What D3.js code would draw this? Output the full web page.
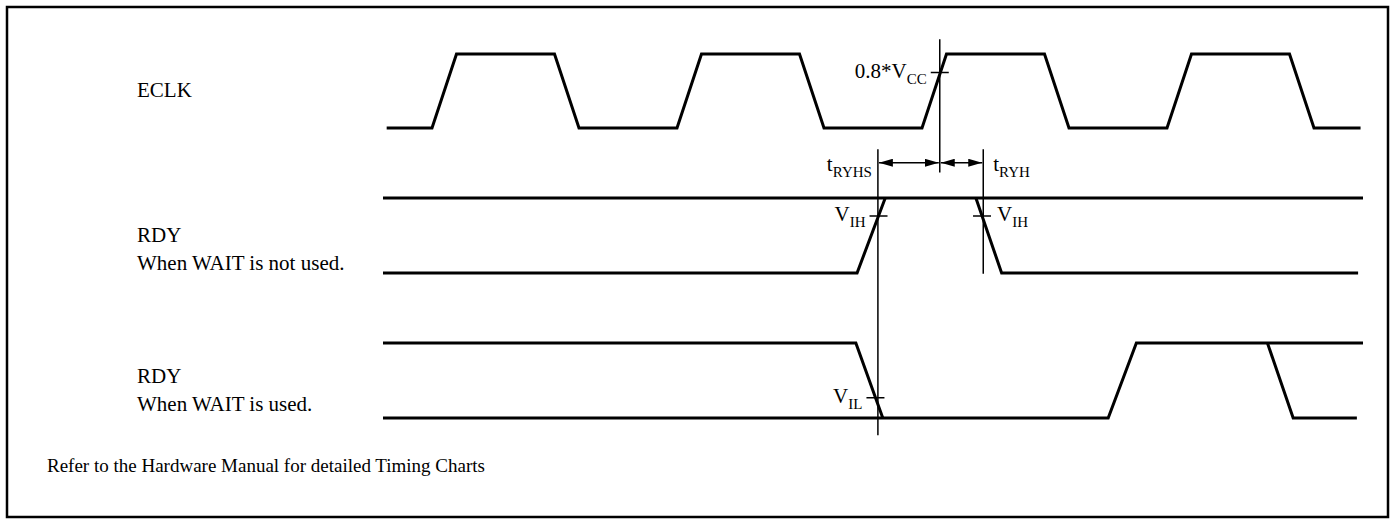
<!DOCTYPE html>
<html>
<head>
<meta charset="utf-8">
<script src="https://cdn.jsdelivr.net/npm/d3@7"></script>
<style>
  body { margin: 0; background: #fff; }
  text { font-family: "Liberation Serif", "Times New Roman", "DejaVu Serif", serif; fill: #000; }
</style>
</head>
<body>
<svg id="chart" width="1395" height="523"></svg>
<script>
// Time is in units where one ECLK period = 20
// Each waveform is a list of [time, level] points (level 0 = low, 1 = high)
let eclkWave = [[0.3,0],[4,0],[6,1],[14,1],[16,0],[24,0],[26,1],[34,1],[36,0],[44,0],[46,1],[54,1],[56,0],[64,0],[66,1],[74,1],[76,0],[79.8,0]];

let rdyNoWaitWaves = [
  [[0,1],[80,1]],
  [[0,0],[38.7,0],[41,1]],
  [[48.4,1],[50.5,0],[79.6,0]]
];

let rdyWaitWaves = [
  [[0,1],[38.6,1],[40.8,0]],
  [[0,0],[59.2,0],[61.5,1],[80,1]],
  [[72.2,1],[74.3,0],[79.5,0]]
];

// signal names (one entry per text line)
let signalNames = [["ECLK"], ["RDY", "When WAIT is not used."], ["RDY", "When WAIT is used."]];

// threshold ticks: [row, time, level, label, sub, side]
let thresholdTicks = [
  [0, 45.45, 0.75, "0.8*V", "CC", "left"],
  [1, 40.45, 0.76, "V", "IH", "left"],
  [1, 48.9, 0.76, "V", "IH", "right"],
  [2, 40.2, 0.27, "V", "IL", "left"]
];

// reference lines: [time, row from, level from, row to, level to]
let refLines = [
  [45.45, 0, 1.2, 0, -0.6],
  [40.4, 1, 1.65, 2, -0.23],
  [49.0, 1, 1.65, 1, -0.01]
];

// timing arrows: [from time, to time, label, sub, side]
let timings = [
  [40.4, 45.45, "t", "RYHS", "left"],
  [45.45, 49.0, "t", "RYH", "right"]
];

let footNote = "Refer to the Hardware Manual for detailed Timing Charts";

// Layout
let width = 1395, height = 523;
let svg = d3.select("#chart");

let x = d3.scaleLinear().domain([0, 80]).range([383, 1363]);

// one vertical scale per signal row
let rowY = [
  d3.scaleLinear().domain([0, 1]).range([128, 54]),
  d3.scaleLinear().domain([0, 1]).range([273, 198]),
  d3.scaleLinear().domain([0, 1]).range([418, 343])
];

// frame
svg.append("rect")
  .attr("x", 7).attr("y", 7)
  .attr("width", 1381).attr("height", 510)
  .attr("fill", "none")
  .attr("stroke", "#000")
  .attr("stroke-width", 2.5);

// arrow head marker
let defs = svg.append("defs");
defs.append("marker")
  .attr("id", "arrow")
  .attr("viewBox", "0 0 14 8")
  .attr("refX", 14).attr("refY", 4)
  .attr("markerWidth", 14).attr("markerHeight", 8)
  .attr("markerUnits", "userSpaceOnUse")
  .attr("orient", "auto-start-reverse")
  .append("path")
  .attr("d", "M0,0L14,4L0,8Z")
  .attr("fill", "#000");

function drawWave(points, row) {
  let line = d3.line()
    .x(d => x(d[0]))
    .y(d => rowY[row](d[1]));
  svg.append("path")
    .attr("d", line(points))
    .attr("fill", "none")
    .attr("stroke", "#000")
    .attr("stroke-width", 3)
    .attr("stroke-linejoin", "miter");
}

drawWave(eclkWave, 0);
rdyNoWaitWaves.forEach(w => drawWave(w, 1));
rdyWaitWaves.forEach(w => drawWave(w, 2));

// signal names
let labelBase = [97, 242, 383];
signalNames.forEach(function(lines, i) {
  lines.forEach(function(t, j) {
    svg.append("text")
      .attr("x", 137)
      .attr("y", labelBase[i] + j * 28)
      .style("font-size", "21px")
      .text(t);
  });
});

// text with subscript
function subText(xPos, yPos, main, sub, anchor) {
  let t = svg.append("text")
    .attr("x", xPos).attr("y", yPos)
    .attr("text-anchor", anchor)
    .style("font-size", "21px");
  t.append("tspan").text(main);
  t.append("tspan").attr("dy", 6).style("font-size", "15px").text(sub);
}

// reference lines
refLines.forEach(function(r) {
  svg.append("line")
    .attr("x1", x(r[0])).attr("x2", x(r[0]))
    .attr("y1", rowY[r[1]](r[2]))
    .attr("y2", rowY[r[3]](r[4]))
    .attr("stroke", "#000")
    .attr("stroke-width", 1.5);
});

// threshold ticks and labels
thresholdTicks.forEach(function(d) {
  let cx = x(d[1]), cy = rowY[d[0]](d[2]);
  svg.append("line")
    .attr("x1", cx - 9).attr("x2", cx + 9)
    .attr("y1", cy).attr("y2", cy)
    .attr("stroke", "#000")
    .attr("stroke-width", 1.5);
  if (d[5] == "left") {
    subText(cx - 13, cy + 5, d[3], d[4], "end");
  } else {
    subText(cx + 15, cy + 5, d[3], d[4], "start");
  }
});

// timing arrows
let arrowY = rowY[1](1.47);
timings.forEach(function(d) {
  svg.append("line")
    .attr("x1", x(d[0]) + 1).attr("x2", x(d[1]) - 1)
    .attr("y1", arrowY).attr("y2", arrowY)
    .attr("stroke", "#000")
    .attr("stroke-width", 1.5)
    .attr("marker-start", "url(#arrow)")
    .attr("marker-end", "url(#arrow)");
  if (d[4] == "left") {
    subText(x(d[0]) - 6, arrowY + 8, d[2], d[3], "end");
  } else {
    subText(x(d[1]) + 10, arrowY + 8, d[2], d[3], "start");
  }
});

// footnote
svg.append("text")
  .attr("x", 47)
  .attr("y", 472)
  .style("font-size", "19px")
  .text(footNote);
</script>
</body>
</html>
